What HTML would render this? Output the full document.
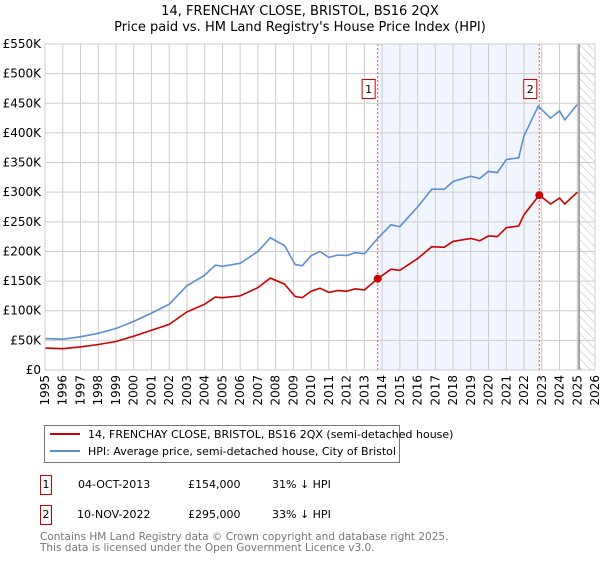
<!DOCTYPE html>
<html><head><meta charset="utf-8"><style>
body{margin:0;background:#fff;font-family:"Liberation Sans","DejaVu Sans",sans-serif;}
</style></head><body>
<svg width="600" height="560" xmlns="http://www.w3.org/2000/svg" font-family="DejaVu Sans, Liberation Sans, sans-serif">
<defs><pattern id="hatch" width="6" height="6" patternUnits="userSpaceOnUse" patternTransform="rotate(-45)"><line x1="0" y1="0" x2="0" y2="6" stroke="#bbb" stroke-width="1"/></pattern></defs>
<text x="300" y="15" text-anchor="middle" font-size="13">14, FRENCHAY CLOSE, BRISTOL, BS16 2QX</text>
<text x="300" y="31" text-anchor="middle" font-size="13">Price paid vs. HM Land Registry's House Price Index (HPI)</text>
<g id="plot"></g>
<g>
<rect x="44.5" y="425.5" width="355" height="37" fill="#fff" stroke="#777"/>
<line x1="50" y1="434" x2="80" y2="434" stroke="#cc0000" stroke-width="2"/>
<text x="88" y="438" font-size="11">14, FRENCHAY CLOSE, BRISTOL, BS16 2QX (semi-detached house)</text>
<line x1="50" y1="451" x2="80" y2="451" stroke="#5b8fd4" stroke-width="2"/>
<text x="88" y="455" font-size="11">HPI: Average price, semi-detached house, City of Bristol</text>
</g>
<g font-size="11">
<rect x="40.5" y="475.5" width="11" height="19" fill="#fff" stroke="#cc0000"/><text x="46" y="488" text-anchor="middle">1</text>
<text x="78" y="488">04-OCT-2013</text><text x="188" y="488">£154,000</text><text x="272" y="488">31% ↓ HPI</text>
<rect x="40.5" y="505.5" width="11" height="19" fill="#fff" stroke="#cc0000"/><text x="46" y="518" text-anchor="middle">2</text>
<text x="77" y="518">10-NOV-2022</text><text x="188" y="518">£295,000</text><text x="272" y="518">33% ↓ HPI</text>
</g>
<text x="40" y="540" font-size="10.5" fill="#777">Contains HM Land Registry data © Crown copyright and database right 2025.</text>
<text x="40" y="551" font-size="10.5" fill="#777">This data is licensed under the Open Government Licence v3.0.</text>
</svg>
<script>
const hpiYears=[1995,1996,1997,1998,1999,2000,2001,2002,2003,2004,2004.6,2005,2006,2007,2007.7,2008.5,2009.1,2009.5,2010,2010.5,2011,2011.5,2012,2012.5,2013,2013.75,2014.5,2015,2016,2016.8,2017.5,2018,2019,2019.5,2020,2020.5,2021,2021.7,2022,2022.8,2023.5,2024,2024.3,2025];
const hpiValues=[53,52,56,62,70,82,96,111,142,160,177,175,180,200,223,210,178,176,193,200,190,194,193,198,196,222,245,242,275,305,305,318,327,323,335,333,355,358,395,445,425,437,422,448];
const priceYears=[1995,1996,1997,1998,1999,2000,2001,2002,2003,2004,2004.6,2005,2006,2007,2007.7,2008.5,2009.1,2009.5,2010,2010.5,2011,2011.5,2012,2012.5,2013,2013.75,2014.5,2015,2016,2016.8,2017.5,2018,2019,2019.5,2020,2020.5,2021,2021.7,2022,2022.86,2023.5,2024,2024.3,2025];
const priceValues=[37,36,39,43,48,57,67,77,98,111,123,122,125,139,155,145,124,122,133,138,131,134,133,137,135,154,170,168,188,208,207,217,222,218,226,225,240,243,262,295,280,290,280,300];
const saleYears=[2013.75,2022.86];
const saleValues=[154,295];
const saleLabels=["1","2"];
const yTicks=[0,50,100,150,200,250,300,350,400,450,500,550];
const yTickLabels=["£0","£50K","£100K","£150K","£200K","£250K","£300K","£350K","£400K","£450K","£500K","£550K"];
const xTicks=[1995,1996,1997,1998,1999,2000,2001,2002,2003,2004,2005,2006,2007,2008,2009,2010,2011,2012,2013,2014,2015,2016,2017,2018,2019,2020,2021,2022,2023,2024,2025,2026];
const X0=45,X1=595,Y0=370,Y1=44;
const xs=v=>X0+(v-1995)/(2026-1995)*(X1-X0);
const ys=v=>Y0-(v/550)*(Y0-Y1);
const NS="http://www.w3.org/2000/svg";
const g=document.getElementById('plot');
function mk(t,a,p){const e=document.createElementNS(NS,t);for(const k in a)e.setAttribute(k,a[k]);(p||g).appendChild(e);return e;}
let e;
e=mk('rect',{x:xs(saleYears[0]),y:Y1,width:xs(saleYears[1])-xs(saleYears[0]),height:Y0-Y1,fill:'#eef3fd',opacity:0.8});


e=mk('rect',{x:xs(2025.1),y:Y1,width:X1-xs(2025.1),height:Y0-Y1,fill:'url(#hatch)'});


yTicks.forEach((t,i)=>{
 mk('line',{x1:X0,x2:X1,y1:ys(t),y2:ys(t),stroke:'#ccc'});
 e=mk('text',{x:X0-4,y:ys(t)+4,'text-anchor':'end','font-size':12});e.textContent=yTickLabels[i];
 
 
});
xTicks.forEach(t=>{
 mk('line',{x1:xs(t),x2:xs(t),y1:Y1,y2:Y0,stroke:'#ccc'});
 e=mk('text',{x:0,y:0,'text-anchor':'end','font-size':12,transform:`translate(${xs(t)+4},${Y0+5}) rotate(-90)`});e.textContent=t;
 
 
});
mk('line',{x1:xs(2025.1),x2:xs(2025.1),y1:Y1,y2:Y0,stroke:'#888','stroke-width':1.5});
saleYears.forEach((s,i)=>{
 e=mk('line',{x1:xs(s),x2:xs(s),y1:Y1,y2:Y0,stroke:'#e06060','stroke-dasharray':'2,2'});
 
 
 mk('rect',{x:xs(s)-15.5,y:79.5,width:13,height:19,fill:'#fff',stroke:'#cc0000'});
 e=mk('text',{x:xs(s)-9,y:93,'text-anchor':'middle','font-size':11});e.textContent=saleLabels[i];
 
 
});
const path=(xa,va)=>xa.map((x,i)=>(i?'L':'M')+xs(x).toFixed(1)+','+ys(va[i]).toFixed(1)).join('');
e=mk('path',{d:path(hpiYears,hpiValues),fill:'none',stroke:'#5b8fd4','stroke-width':1.6});


e=mk('path',{d:path(priceYears,priceValues),fill:'none',stroke:'#cc0000','stroke-width':1.6});


saleYears.forEach((s,i)=>{
 e=mk('circle',{cx:xs(s),cy:ys(saleValues[i]),r:4,fill:'#cc0000'});
 
 
});
mk('rect',{x:X0,y:Y1,width:X1-X0,height:Y0-Y1,fill:'none',stroke:'#ccc'});
</script>
</body></html>
